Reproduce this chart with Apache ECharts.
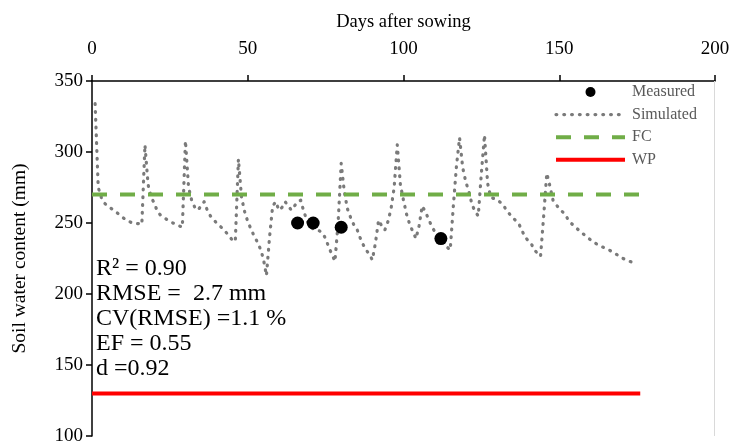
<!DOCTYPE html>
<html>
<head>
<meta charset="utf-8">
<script src="https://cdn.jsdelivr.net/npm/echarts@6/dist/echarts.min.js"></script>
<style>
html,body{margin:0;padding:0;background:#fff;}
#chart{width:736px;height:446px;}
</style>
</head>
<body>
<div id="chart"></div>
<script>
// ---- data ----
var xTicks = [0, 50, 100, 150, 200];
var yTicks = [100, 150, 200, 250, 300, 350];

var measuredDays = [66, 71, 80, 112];
var measuredSWC  = [250, 250, 247, 239];

var simDays = [1,2,3,4,5,7,9,11,13,15,16,17,18,19,20,21,22,24,26,28,29,30,31,32,33,34,35,36,37,38,40,42,44,45,46,47,48,49,50,51,52,53,54,55,56,57,58,59,60,61,62,63,64,65,66,67,68,69,70,71,72,73,74,75,76,77,78,79,80,81,82,83,84,85,86,87,88,89,90,91,92,93,94,95,96,97,98,99,100,101,102,103,104,105,106,107,108,109,110,111,112,113,114,115,116,117,118,119,120,121,122,123,124,125,126,127,128,130,132,133,135,137,138,139,141,142,144,145,146,147,148,150,152,153,155,157,159,161,163,166,168,170,172,175];
var simSWC  = [334,275,268,264,262,259,255.5,252,250,249.5,249,305,277,268,264,258,255.5,252.5,250,248,247,308,275,266,261,259,262,265,259,255,250,246,241,238,237,295,268,258,251,246,241,237,232,225,213,240,262,265,259,261,265,262,259,262,265,266,258,252,247,246,245,244.5,243,239,233,228,223,250,292,272,260,254,249,246,240,235,231,228,224,236,252,248,245,251,260,275,305,277,266,256,249,244,239,248,262,258,253,248,244,240,238,236,233,231,262,290,310,289,279,272,263,258,255,285,312,278,268,266.5,263,259,254,249.5,245,240,235.5,231,226.5,255,285,276,266,260,256,251.5,247.5,243.5,240,236.5,234,231,228.5,225.5,223.5,221];

var fcDays = [0, 176];
var fcSWC  = [270, 270];
var wpDays = [0, 176];
var wpSWC  = [130, 130];

var statLines = ['R\u00B2 = 0.90', 'RMSE =  2.7 mm', 'CV(RMSE) =1.1 %', 'EF = 0.55', 'd =0.92'];

function pairs(xs, ys){ return xs.map(function(x,i){ return [x, ys[i]]; }); }

var FONT = "'Liberation Serif','Times New Roman',serif";
var chart = echarts.init(document.getElementById('chart'), null, {renderer:'canvas'});

var statGraphics = statLines.map(function(t, i){
  return {
    type: 'text',
    left: 96,
    top: 257 + i * 25,
    z: 100,
    style: { text: t, font: '24px ' + FONT, fill: '#000' }
  };
});

chart.setOption({
  animation: false,
  backgroundColor: '#fff',
  grid: { left: 92, right: 21, top: 81, bottom: 10, containLabel: false },
  xAxis: {
    type: 'value', position: 'top', min: 0, max: 200, interval: 50,
    name: 'Days after sowing', nameLocation: 'middle', nameGap: 49,
    nameTextStyle: { fontFamily: FONT, fontSize: 18.5, color: '#000' },
    axisLine: { show: true, lineStyle: { color: '#000', width: 1.5 } },
    axisTick: { show: true, inside: false, length: 6, lineStyle: { color: '#000', width: 1.5 } },
    axisLabel: { fontFamily: FONT, fontSize: 19, color: '#000', margin: 22,
      formatter: function(v){ return xTicks.indexOf(v) >= 0 ? String(v) : ''; } },
    splitLine: { show: false }
  },
  yAxis: {
    type: 'value', min: 100, max: 350, interval: 50,
    name: 'Soil water content (mm)', nameLocation: 'middle', nameGap: 62,
    nameTextStyle: { fontFamily: FONT, fontSize: 19.5, color: '#000' },
    axisLine: { show: true, lineStyle: { color: '#000', width: 1.5 } },
    axisTick: { show: true, inside: false, length: 6, lineStyle: { color: '#000', width: 1.5 } },
    axisLabel: { fontFamily: FONT, fontSize: 19, color: '#000', margin: 9,
      formatter: function(v){ return yTicks.indexOf(v) >= 0 ? String(v) : ''; } },
    splitLine: { show: false }
  },
  legend: {
    orient: 'vertical', left: 554, top: 84, padding: 0,
    itemWidth: 69, itemHeight: 10, itemGap: 6.6,
    textStyle: { fontFamily: FONT, fontSize: 16, color: '#595959', padding: [0,0,0,2] },
    data: [
      { name: 'Measured', icon: 'circle', itemStyle: { color: '#000', opacity: 1 } },
      { name: 'Simulated', itemStyle: { opacity: 0 }, lineStyle: { width: 3.2 } },
      { name: 'FC', itemStyle: { opacity: 0 }, lineStyle: { width: 4 } },
      { name: 'WP', itemStyle: { opacity: 0 }, lineStyle: { width: 4 } }
    ]
  },
  graphic: statGraphics.concat([
    { type: 'line', z: 1, shape: { x1: 714.5, y1: 81, x2: 714.5, y2: 436 },
      style: { stroke: '#d9d9d9', lineWidth: 1 } }
  ]),
  series: [
    {
      name: 'Simulated', type: 'line', data: pairs(simDays, simSWC),
      showSymbol: false, symbol: 'none', z: 2,
      lineStyle: { color: '#7a7a7a', width: 3.2, type: [0.8, 7], cap: 'round', join: 'round' },
      itemStyle: { color: '#7a7a7a' }
    },
    {
      name: 'FC', type: 'line', data: pairs(fcDays, fcSWC),
      showSymbol: false, symbol: 'none', z: 3,
      lineStyle: { color: '#70ad47', width: 4, type: [15, 13], cap: 'butt' },
      itemStyle: { color: '#70ad47' }
    },
    {
      name: 'WP', type: 'line', data: pairs(wpDays, wpSWC),
      showSymbol: false, symbol: 'none', z: 3,
      lineStyle: { color: '#ff0000', width: 4 },
      itemStyle: { color: '#ff0000' }
    },
    {
      name: 'Measured', type: 'scatter', data: pairs(measuredDays, measuredSWC),
      symbol: 'circle', symbolSize: 13, z: 5,
      itemStyle: { color: '#000', opacity: 1 }
    }
  ]
});
</script>
</body>
</html>
